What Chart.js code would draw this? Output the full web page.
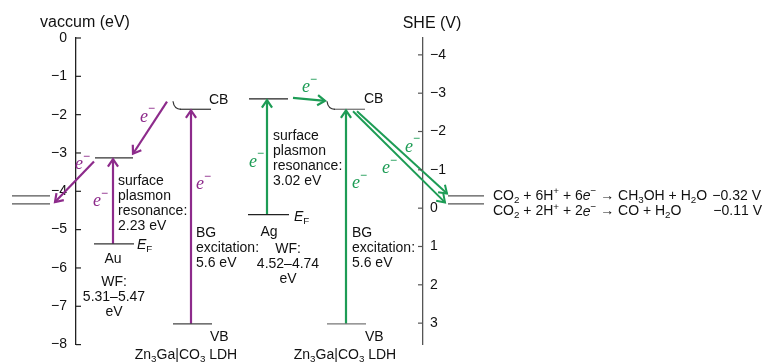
<!DOCTYPE html>
<html>
<head>
<meta charset="utf-8">
<script src="https://cdn.jsdelivr.net/npm/chart.js@4.4.1/dist/chart.umd.min.js"></script>
<style>
  html, body { margin: 0; padding: 0; background: #fff; }
</style>
</head>
<body>
<canvas id="bandChart" width="765" height="362"></canvas>
<script>
// energy levels in eV vs vacuum: Au, left LDH, Ag, right LDH
const species = ['Au', 'Zn_3Ga|CO_3 LDH', 'Ag', 'Zn_3Ga|CO_3 LDH'];
const upperLevels = [-3.13, -1.86, -1.59, -1.86];
const lowerLevels = [-5.37, -7.46, -4.61, -7.46];
const gapLabels = ['2.23 eV', '5.6 eV', '3.02 eV', '5.6 eV'];
const workFunctions = ['5.31–5.47', '', '4.52–4.74', ''];
// CO2 reduction potentials, V vs SHE
const co2Potentials = [-0.32, -0.11];
const co2Reactions = ['CO_2 + 6H^+ + 6{e}^− → CH_3OH + H_2O', 'CO_2 + 2H^+ + 2{e}^− → CO + H_2O'];
const vacuumTicks = [0, -1, -2, -3, -4, -5, -6, -7, -8];
const sheTicks = [-4, -3, -2, -1, 0, 1, 2, 3];
const SHE_ZERO = -4.44; // vacuum level of SHE 0 V

const PURPLE = '#8d2b8b';
const GREEN = '#1d9c55';
const SANS = "'Liberation Sans', Arial, Helvetica, sans-serif";
const SERIF = "'Liberation Serif', 'Times New Roman', serif";

// horizontal layout of the columns (x scale units)
const colLeft = [95, 180, 249, 334];
const colRight = [133, 211, 288, 365];
const colArrow = [113, 191, 267, 346];
const levelColor = ['#333', '#444', '#222', '#777'];
const arrowColor = [PURPLE, PURPLE, GREEN, GREEN];

const toVac = v => SHE_ZERO - v;
const minus = v => (v < 0 ? '−' + Math.abs(v) : String(v));

const datasets = [];
function seg(points, color, width, arrow) {
  datasets.push({ data: points, borderColor: color, borderWidth: width, arrow: !!arrow,
    showLine: true, pointRadius: 0, fill: false, tension: 0, clip: false });
}

species.forEach((s, i) => {
  seg([{ x: colLeft[i], y: upperLevels[i] }, { x: colRight[i], y: upperLevels[i] }], levelColor[i], 1.3);
  seg([{ x: i % 2 ? colLeft[i] - 7 : colLeft[i] - 1, y: lowerLevels[i] }, { x: colRight[i] + 1, y: lowerLevels[i] }], levelColor[i], 1.3);
  seg([{ x: colArrow[i], y: lowerLevels[i] }, { x: colArrow[i], y: upperLevels[i] - 0.03 }], arrowColor[i], 2.2, true);
});

// CO2 reduction levels on both sides
co2Potentials.forEach(p => {
  seg([{ x: 12, y: toVac(p) }, { x: 50, y: toVac(p) }], '#555', 1.3);
  seg([{ x: 448, y: toVac(p) }, { x: 484, y: toVac(p) }], '#555', 1.3);
});

// electron transfer arrows
seg([{ x: 167, y: upperLevels[1] + 0.2 }, { x: 133, y: upperLevels[0] + 0.11 }], PURPLE, 2.2, true);
seg([{ x: 94, y: upperLevels[0] - 0.09 }, { x: 55, y: -4.28 }], PURPLE, 2.2, true);
seg([{ x: 293, y: upperLevels[2] + 0.03 }, { x: 325, y: upperLevels[2] - 0.05 }], GREEN, 2.2, true);
seg([{ x: 357, y: upperLevels[3] - 0.05 }, { x: 447, y: toVac(co2Potentials[0]) + 0.06 }], GREEN, 2, true);
seg([{ x: 353, y: upperLevels[3] - 0.05 }, { x: 445, y: toVac(co2Potentials[1]) + 0.04 }], GREEN, 2, true);

// text layout: [text, x, y(eV), align]
const texts = [
  ['surface\nplasmon\nresonance:\n' + gapLabels[0], 118, -3.74, 'left'],
  ['Au', 113, -5.76, 'center'],
  ['WF:\n' + workFunctions[0] + '\neV', 114, -6.38, 'center'],
  ['CB', 209, -1.63, 'left'],
  ['VB', 210, -7.80, 'left'],
  [species[1], 186, -8.27, 'center'],
  ['BG\nexcitation:\n' + gapLabels[1], 196, -5.10, 'left'],
  ['surface\nplasmon\nresonance:\n' + gapLabels[2], 273, -2.56, 'left'],
  ['Ag', 269, -5.06, 'center'],
  ['WF:\n' + workFunctions[2] + '\neV', 288, -5.52, 'center'],
  ['CB', 364, -1.60, 'left'],
  ['VB', 365, -7.80, 'left'],
  [species[3], 345, -8.27, 'center'],
  ['BG\nexcitation:\n' + gapLabels[3], 352, -5.10, 'left'],
  ['{E}_F', 137, -5.41, 'left'],
  ['{E}_F', 294, -4.67, 'left'],
  [co2Reactions[0], 493, -4.13, 'left'],
  [co2Reactions[1], 493, -4.53, 'left'],
  [minus(co2Potentials[0]) + ' V', 761, -4.13, 'right'],
  [minus(co2Potentials[1]) + ' V', 762, -4.53, 'right']
];
// e- labels: [x, y(eV), color]
const electrons = [
  [75, -3.30, PURPLE], [93, -4.26, PURPLE], [140, -2.06, PURPLE], [196, -3.82, PURPLE],
  [249, -3.23, GREEN], [302, -1.29, GREEN], [352, -3.79, GREEN], [405, -2.84, GREEN], [382, -3.41, GREEN]
];

// parse markup: _c subscript, ^c superscript, {..} italic
function parseRich(str) {
  const parts = [];
  for (let i = 0; i < str.length; i++) {
    const c = str[i];
    if (c === '_' || c === '^') { parts.push([str[i + 1], c === '_' ? 'sub' : 'sup']); i++; }
    else if (c === '{') { const j = str.indexOf('}', i); parts.push([str.slice(i + 1, j), 'it']); i = j; }
    else parts.push([c, '']);
  }
  return parts;
}
function partFont(mode, size) {
  if (mode === 'sub' || mode === 'sup') return (size * 0.7) + 'px ' + SANS;
  if (mode === 'it') return 'italic ' + size + 'px ' + SANS;
  return size + 'px ' + SANS;
}
function drawRich(ctx, str, x, y, align, size) {
  const parts = parseRich(str);
  let w = 0;
  parts.forEach(p => { ctx.font = partFont(p[1], size); w += ctx.measureText(p[0]).width; });
  let cx = align === 'center' ? x - w / 2 : align === 'right' ? x - w : x;
  ctx.textAlign = 'left';
  parts.forEach(p => {
    ctx.font = partFont(p[1], size);
    const dy = p[1] === 'sub' ? size * 0.28 : p[1] === 'sup' ? -size * 0.33 : 0;
    ctx.fillText(p[0], cx, y + dy);
    cx += ctx.measureText(p[0]).width;
  });
}

const diagramPlugin = {
  id: 'diagram',
  afterDraw(chart) {
    const { ctx } = chart;
    const { x, y, y2 } = chart.scales;
    ctx.save();
    ctx.lineCap = 'butt';

    // arrowheads on flagged segments
    chart.data.datasets.forEach((ds, i) => {
      if (!ds.arrow) return;
      const pts = chart.getDatasetMeta(i).data;
      const a = pts[0], b = pts[pts.length - 1];
      const ang = Math.atan2(b.y - a.y, b.x - a.x);
      ctx.strokeStyle = ds.borderColor;
      ctx.lineWidth = ds.borderWidth;
      ctx.beginPath();
      ctx.moveTo(b.x - 9 * Math.cos(ang - 0.6), b.y - 9 * Math.sin(ang - 0.6));
      ctx.lineTo(b.x, b.y);
      ctx.lineTo(b.x - 9 * Math.cos(ang + 0.6), b.y - 9 * Math.sin(ang + 0.6));
      ctx.stroke();
    });

    // curved left ends of the LDH conduction bands
    [1, 3].forEach(i => {
      const px = x.getPixelForValue(colLeft[i]);
      const py = y.getPixelForValue(upperLevels[i]);
      ctx.strokeStyle = '#333';
      ctx.lineWidth = 1.2;
      ctx.beginPath();
      ctx.moveTo(px - 7, py - 8);
      ctx.quadraticCurveTo(px - 6, py, px + 1, py);
      ctx.stroke();
    });

    // inward tick marks
    ctx.lineWidth = 1.2;
    ctx.strokeStyle = '#222';
    vacuumTicks.forEach(v => {
      const py = y.getPixelForValue(v);
      ctx.beginPath(); ctx.moveTo(y.right, py); ctx.lineTo(y.right + 5, py); ctx.stroke();
    });
    ctx.strokeStyle = '#555';
    sheTicks.forEach(v => {
      const py = y2.getPixelForValue(v);
      ctx.beginPath(); ctx.moveTo(y2.left - 5, py); ctx.lineTo(y2.left, py); ctx.stroke();
    });

    // axis titles
    ctx.fillStyle = '#111';
    ctx.textBaseline = 'middle';
    ctx.font = '16px ' + SANS;
    ctx.textAlign = 'center';
    ctx.fillText('vaccum (eV)', 85, y.getPixelForValue(0) - 15);
    ctx.fillText('SHE (V)', 432, y2.getPixelForValue(-4.44) - 14);

    // labels
    texts.forEach(t => {
      const lines = t[0].split('\n');
      const px = x.getPixelForValue(t[1]);
      const py = y.getPixelForValue(t[2]);
      lines.forEach((ln, k) => drawRich(ctx, ln, px, py + k * 15, t[3], 14));
    });

    // electron symbols
    electrons.forEach(e => {
      const px = x.getPixelForValue(e[0]);
      const py = y.getPixelForValue(e[1]);
      ctx.fillStyle = e[2];
      ctx.textAlign = 'left';
      ctx.font = 'italic 18px ' + SERIF;
      ctx.fillText('e', px, py);
      const w = ctx.measureText('e').width;
      ctx.font = '12px ' + SANS;
      ctx.fillText('−', px + w, py - 8);
    });
    ctx.restore();
  }
};

const tickFont = { size: 14, family: SANS };

new Chart(document.getElementById('bandChart'), {
  type: 'scatter',
  data: { datasets: datasets },
  options: {
    responsive: false,
    animation: false,
    devicePixelRatio: 1,
    layout: { padding: { top: 38, bottom: 14, left: 0, right: 0 } },
    plugins: { legend: { display: false }, tooltip: { enabled: false } },
    scales: {
      x: { type: 'linear', min: 76, max: 423, display: false },
      y: {
        position: 'left', min: -8, max: 0,
        afterFit(s) { s.width = 76; },
        afterBuildTicks(s) { s.ticks = vacuumTicks.map(v => ({ value: v })); },
        grid: { drawOnChartArea: false, drawTicks: false },
        border: { color: '#222', width: 1.3 },
        ticks: { padding: 9, color: '#111', font: tickFont, callback: v => minus(v) }
      },
      y2: {
        position: 'right', reverse: true, min: SHE_ZERO, max: SHE_ZERO + 8,
        afterFit(s) { s.width = 765 - 423; },
        afterBuildTicks(s) { s.ticks = sheTicks.map(v => ({ value: v })); },
        grid: { drawOnChartArea: false, drawTicks: false },
        border: { color: '#555', width: 1.3 },
        ticks: { padding: 7, color: '#111', font: tickFont, callback: v => minus(v) }
      }
    }
  },
  plugins: [diagramPlugin]
});
</script>
</body>
</html>
